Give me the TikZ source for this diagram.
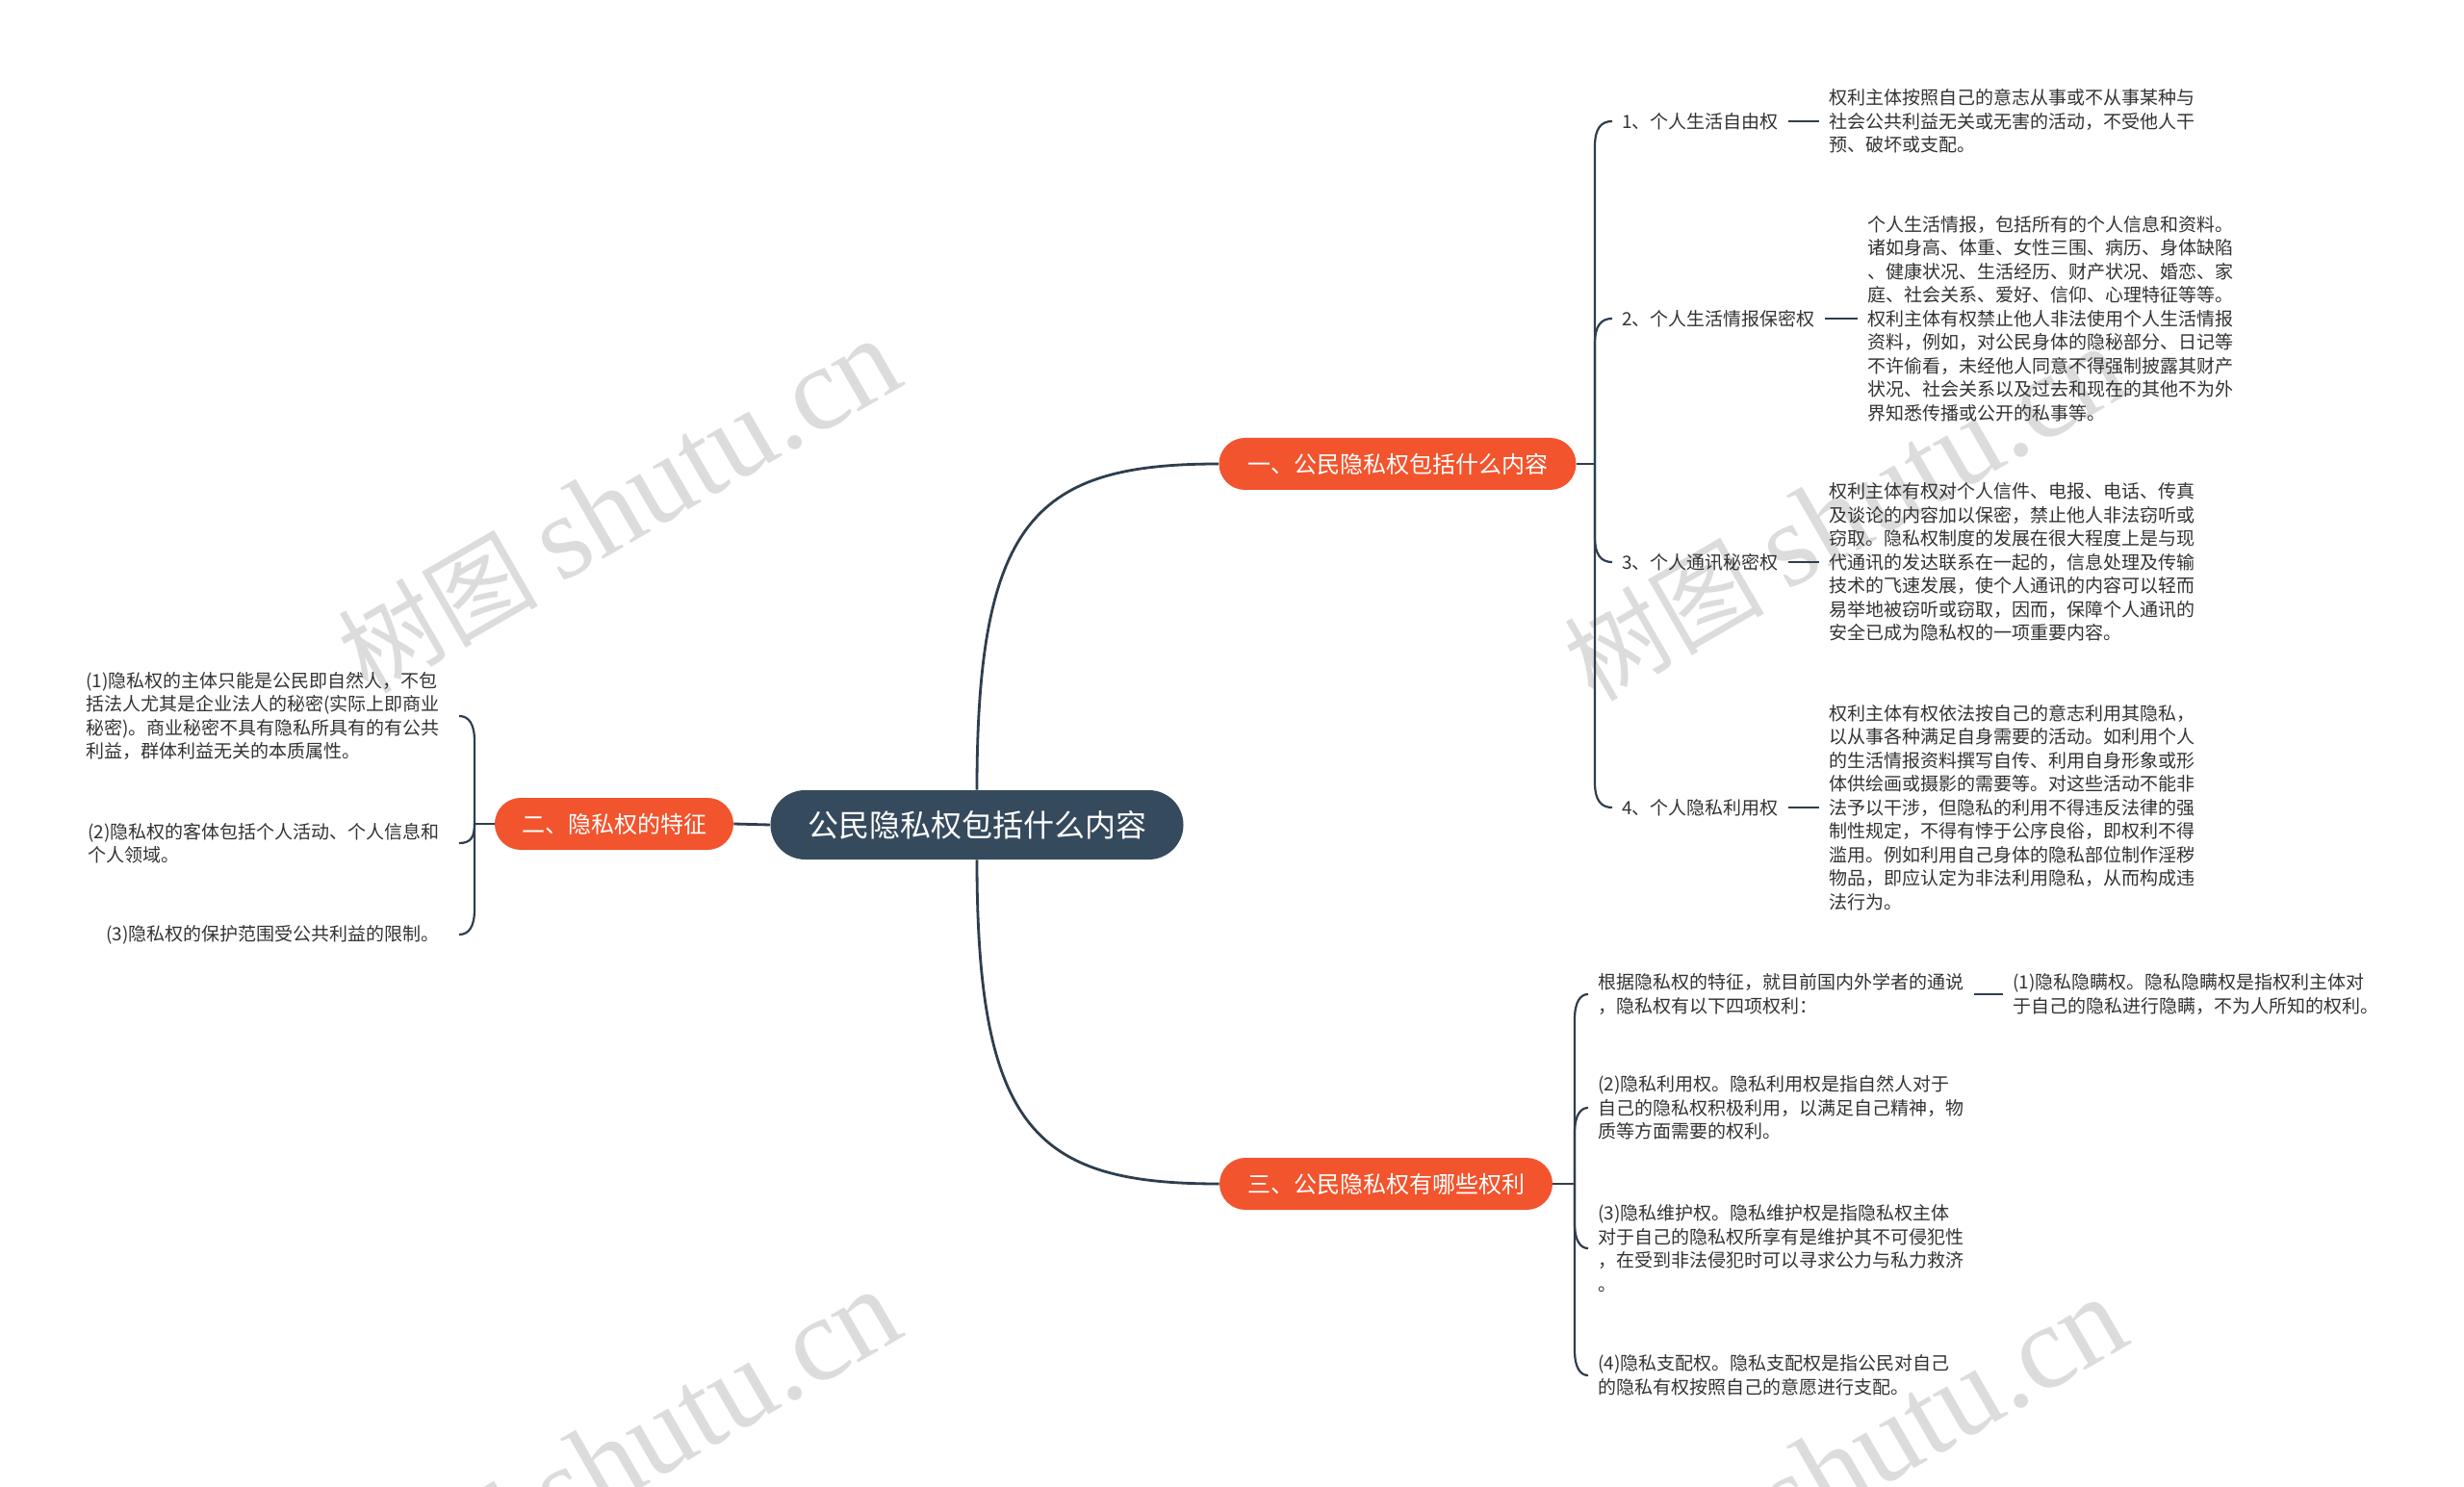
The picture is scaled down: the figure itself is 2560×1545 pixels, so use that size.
\documentclass[tikz,border=0pt]{standalone}
\usepackage{fontspec}
\setmainfont{Noto Sans CJK SC}
\newfontfamily\wmlatin{Liberation Serif}
\usetikzlibrary{calc}
\definecolor{dark}{HTML}{364A5E}
\definecolor{orng}{HTML}{F2542D}
\definecolor{linec}{HTML}{2E3E4E}
\definecolor{txt}{HTML}{333333}
\definecolor{wm}{HTML}{DCDCDC}
\tikzset{
 root/.style={fill=dark, text=white, rounded corners=18pt, minimum width=214.5pt, minimum height=36pt, font=\fontsize{16pt}{18pt}\selectfont, inner sep=0pt},
 topic/.style={fill=orng, text=white, rounded corners=13.5pt, minimum height=27pt, inner sep=0pt, font=\fontsize{12pt}{14pt}\selectfont},
 leaf/.style={text=txt, align=left, inner sep=0pt, font=\fontsize{9.5pt}{12.25pt}\selectfont},
 conn/.style={draw=linec, line width=1.1pt},
 mainconn/.style={draw=linec, line width=1.4pt},
 wmark/.style={text=wm, rotate=30, inner sep=0pt, font=\fontsize{52pt}{60pt}\selectfont},
}
\begin{document}
\begin{tikzpicture}[x=0.5pt, y=-0.5pt]
\useasboundingbox (0,0) rectangle (2560,1545);
\fill[white] (0,0) rectangle (2560,1545);

% watermarks
\node[wmark] (w1) at (643,526) {树图 \wmlatin\fontsize{62pt}{70pt}\selectfont shutu.cn};
\node[wmark] (w2) at (1917,534) {树图 \wmlatin\fontsize{62pt}{70pt}\selectfont shutu.cn};
\node[wmark] (w3) at (643,1514) {树图 \wmlatin\fontsize{62pt}{70pt}\selectfont shutu.cn};
\node[wmark] (w4) at (1917,1522) {树图 \wmlatin\fontsize{62pt}{70pt}\selectfont shutu.cn};

% coordinates of the junctions
\coordinate (j1) at (1657,482);
\coordinate (j2) at (493,856);
\coordinate (j3) at (1636,1230);

% main nodes
\node[root] (C) at (1015,857) {公民隐私权包括什么内容};
\node[topic, minimum width=185.5pt] (B1) at (1452,482) {一、公民隐私权包括什么内容};
\node[topic, minimum width=124pt] (B2) at (638,856) {二、隐私权的特征};
\node[topic, minimum width=173pt] (B3) at (1440,1230) {三、公民隐私权有哪些权利};

% branch 1 children
\node[leaf, anchor=west] (L1) at (1685,126) {1、个人生活自由权};
\node[leaf, anchor=west] (D1) at (1900,126) {权利主体按照自己的意志从事或不从事某种与\\社会公共利益无关或无害的活动，不受他人干\\预、破坏或支配。};
\node[leaf, anchor=west] (L2) at (1685,331) {2、个人生活情报保密权};
\node[leaf, anchor=west] (D2) at (1940,331) {个人生活情报，包括所有的个人信息和资料。\\诸如身高、体重、女性三围、病历、身体缺陷\\、健康状况、生活经历、财产状况、婚恋、家\\庭、社会关系、爱好、信仰、心理特征等等。\\权利主体有权禁止他人非法使用个人生活情报\\资料，例如，对公民身体的隐秘部分、日记等\\不许偷看，未经他人同意不得强制披露其财产\\状况、社会关系以及过去和现在的其他不为外\\界知悉传播或公开的私事等。};
\node[leaf, anchor=west] (L3) at (1685,584) {3、个人通讯秘密权};
\node[leaf, anchor=west] (D3) at (1900,584) {权利主体有权对个人信件、电报、电话、传真\\及谈论的内容加以保密，禁止他人非法窃听或\\窃取。隐私权制度的发展在很大程度上是与现\\代通讯的发达联系在一起的，信息处理及传输\\技术的飞速发展，使个人通讯的内容可以轻而\\易举地被窃听或窃取，因而，保障个人通讯的\\安全已成为隐私权的一项重要内容。};
\node[leaf, anchor=west] (L4) at (1685,839) {4、个人隐私利用权};
\node[leaf, anchor=west] (D4) at (1900,839) {权利主体有权依法按自己的意志利用其隐私，\\以从事各种满足自身需要的活动。如利用个人\\的生活情报资料撰写自传、利用自身形象或形\\体供绘画或摄影的需要等。对这些活动不能非\\法予以干涉，但隐私的利用不得违反法律的强\\制性规定，不得有悖于公序良俗，即权利不得\\滥用。例如利用自己身体的隐私部位制作淫秽\\物品，即应认定为非法利用隐私，从而构成违\\法行为。};

% branch 3 children
\node[leaf, anchor=west] (E1) at (1660,1033) {根据隐私权的特征，就目前国内外学者的通说\\，隐私权有以下四项权利：};
\node[leaf, anchor=west] (F1) at (2091,1033) {(1)隐私隐瞒权。隐私隐瞒权是指权利主体对\\于自己的隐私进行隐瞒，不为人所知的权利。};
\node[leaf, anchor=west] (E2) at (1660,1151) {(2)隐私利用权。隐私利用权是指自然人对于\\自己的隐私权积极利用，以满足自己精神，物\\质等方面需要的权利。};
\node[leaf, anchor=west] (E3) at (1660,1297) {(3)隐私维护权。隐私维护权是指隐私权主体\\对于自己的隐私权所享有是维护其不可侵犯性\\，在受到非法侵犯时可以寻求公力与私力救济\\。};
\node[leaf, anchor=west] (E4) at (1660,1429) {(4)隐私支配权。隐私支配权是指公民对自己\\的隐私有权按照自己的意愿进行支配。};

% branch 2 children
\node[leaf, anchor=east] (G1) at (457,744) {(1)隐私权的主体只能是公民即自然人，不包\\括法人尤其是企业法人的秘密(实际上即商业\\秘密)。商业秘密不具有隐私所具有的有公共\\利益，群体利益无关的本质属性。};
\node[leaf, anchor=east] (G2) at (457,876) {(2)隐私权的客体包括个人活动、个人信息和\\个人领域。};
\node[leaf, anchor=east] (G3) at (457,971) {(3)隐私权的保护范围受公共利益的限制。};

% main connectors
\draw[mainconn] (C.north) .. controls +(0,-282) and +(-189,0) .. (B1.west);
\draw[mainconn] (C.south) .. controls +(0,282) and +(-189,0) .. (B3.west);
\draw[mainconn] (C.west) -- (B2.east);

% branch 1 brace
\draw[conn] (B1.east) -- (j1);
\draw[conn] (j1) -- ($(j1|-L1.west)+(0,26)$) .. controls ($(j1|-L1.west)+(0,8)$) and ($(j1|-L1.west)+(6,0)$) .. ($(L1.west)+(-10,0)$);
\draw[conn] (j1) -- ($(j1|-L2.west)+(0,26)$) .. controls ($(j1|-L2.west)+(0,8)$) and ($(j1|-L2.west)+(6,0)$) .. ($(L2.west)+(-10,0)$);
\draw[conn] (j1) -- ($(j1|-L3.west)+(0,-26)$) .. controls ($(j1|-L3.west)+(0,-8)$) and ($(j1|-L3.west)+(6,0)$) .. ($(L3.west)+(-10,0)$);
\draw[conn] (j1) -- ($(j1|-L4.west)+(0,-26)$) .. controls ($(j1|-L4.west)+(0,-8)$) and ($(j1|-L4.west)+(6,0)$) .. ($(L4.west)+(-10,0)$);
\draw[conn] ([xshift=5pt]L1.east) -- ([xshift=-5pt]D1.west);
\draw[conn] ([xshift=5pt]L2.east) -- ([xshift=-5pt]D2.west);
\draw[conn] ([xshift=5pt]L3.east) -- ([xshift=-5pt]D3.west);
\draw[conn] ([xshift=5pt]L4.east) -- ([xshift=-5pt]D4.west);

% branch 3 brace
\draw[conn] (B3.east) -- (j3);
\draw[conn] (j3) -- ($(j3|-E1.west)+(0,26)$) .. controls ($(j3|-E1.west)+(0,8)$) and ($(j3|-E1.west)+(6,0)$) .. ($(E1.west)+(-10,0)$);
\draw[conn] (j3) -- ($(j3|-E2.west)+(0,26)$) .. controls ($(j3|-E2.west)+(0,8)$) and ($(j3|-E2.west)+(6,0)$) .. ($(E2.west)+(-10,0)$);
\draw[conn] (j3) -- ($(j3|-E3.west)+(0,-26)$) .. controls ($(j3|-E3.west)+(0,-8)$) and ($(j3|-E3.west)+(6,0)$) .. ($(E3.west)+(-10,0)$);
\draw[conn] (j3) -- ($(j3|-E4.west)+(0,-26)$) .. controls ($(j3|-E4.west)+(0,-8)$) and ($(j3|-E4.west)+(6,0)$) .. ($(E4.west)+(-10,0)$);
\draw[conn] ([xshift=5pt]E1.east) -- ([xshift=-5pt]F1.west);

% branch 2 brace
\draw[conn] (B2.west) -- (j2);
\draw[conn] (j2) -- ($(j2|-G1.east)+(0,26)$) .. controls ($(j2|-G1.east)+(0,8)$) and ($(j2|-G1.east)+(-6,0)$) .. ($(G1.east)+(20,0)$);
\draw[conn] (j2) .. controls ($(j2)+(0,14)$) and ($(j2|-G2.east)+(-4,0)$) .. ($(G2.east)+(20,0)$);
\draw[conn] (j2) -- ($(j2|-G3.east)+(0,-26)$) .. controls ($(j2|-G3.east)+(0,-8)$) and ($(j2|-G3.east)+(-6,0)$) .. ($(G3.east)+(20,0)$);
\end{tikzpicture}
\end{document}
